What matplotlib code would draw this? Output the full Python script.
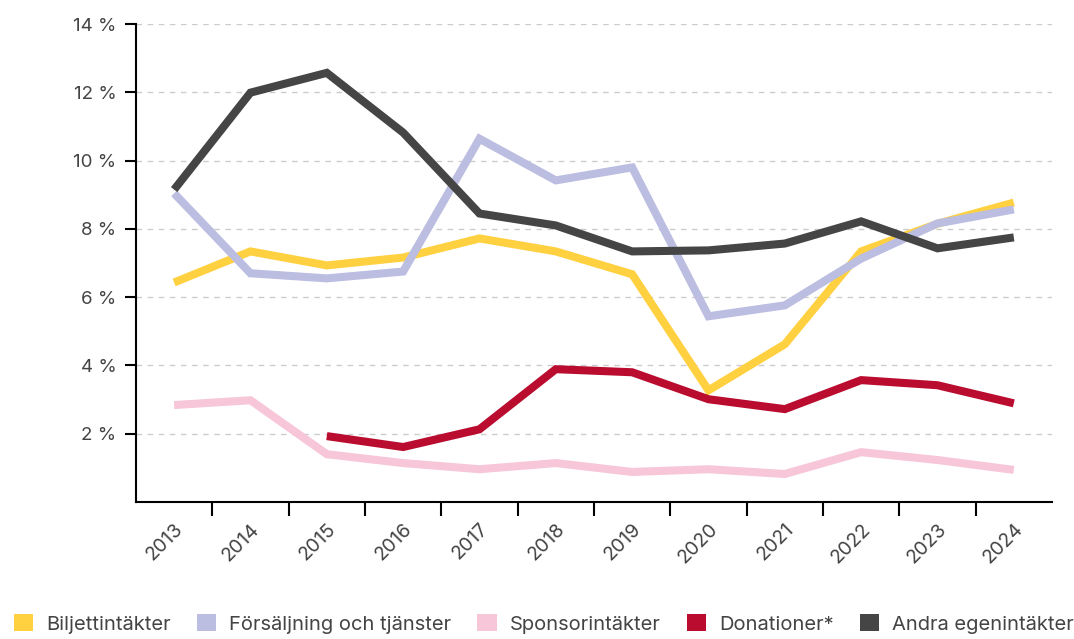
import matplotlib
matplotlib.use("Agg")
import matplotlib.pyplot as plt
from matplotlib.patches import Patch

plt.rcParams['font.family'] = ['Inter', 'DejaVu Sans']

years = [str(y) for y in range(2013, 2025)]

biljett = [6.43, 7.34, 6.93, 7.16, 7.72, 7.34, 6.67, 3.27, 4.62, 7.34, 8.15, 8.77]
forsaljning = [9.04, 6.70, 6.55, 6.75, 10.64, 9.42, 9.80, 5.44, 5.76, 7.13, 8.16, 8.57]
sponsor = [2.84, 2.98, 1.40, 1.14, 0.96, 1.14, 0.88, 0.96, 0.82, 1.46, 1.23, 0.94]
donationer = [None, None, 1.93, 1.61, 2.13, 3.89, 3.80, 3.01, 2.72, 3.57, 3.42, 2.89]
andra = [9.15, 11.99, 12.57, 10.82, 8.45, 8.10, 7.34, 7.37, 7.57, 8.22, 7.43, 7.75]

names = ["Biljettintäkter", "Försäljning och tjänster", "Sponsorintäkter",
         "Donationer*", "Andra egenintäkter"]
colors = ["#FFD03F", "#BBBDE1", "#F7C6D8", "#BA0C2F", "#454545"]
series = [biljett, forsaljning, sponsor, donationer, andra]

fig = plt.figure(figsize=(10.74, 6.39), dpi=100)
ax = fig.add_axes([0.1266, 0.2144, 0.8529, 0.748])

x = list(range(len(years)))
for vals, c in zip(series, colors):
    xs = [i for i, v in zip(x, vals) if v is not None]
    ys = [v for v in vals if v is not None]
    ax.plot(xs, ys, color=c, lw=5.8, solid_joinstyle='miter', solid_capstyle='butt')

ax.set_xlim(-0.5, len(years) - 0.5)
ax.set_ylim(0, 14)
ax.set_yticks(range(2, 15, 2))
ax.set_yticklabels([f"{v} %" for v in range(2, 15, 2)])
ax.yaxis.grid(True, color="#cccccc", linestyle=(0, (4, 4)), lw=1)
ax.set_axisbelow(True)

# tick marks between categories, labels at centers
ax.set_xticks([i + 0.5 for i in range(len(years) - 1)])
ax.set_xticklabels([])
ax.set_xticks(x, minor=True)
ax.set_xticklabels(years, minor=True, rotation=45, ha='right', rotation_mode='anchor')
ax.tick_params(axis='x', which='minor', length=0, pad=13)
ax.tick_params(axis='x', which='major', length=10, width=1.5, color='black')
ax.tick_params(axis='y', length=8, width=1.5, color='black', pad=6)
ax.tick_params(axis='y', labelsize=13.5, labelcolor="#444444")
ax.tick_params(axis='x', which='minor', labelsize=14, labelcolor="#444444")

for s in ['top', 'right']:
    ax.spines[s].set_visible(False)
for s in ['left', 'bottom']:
    ax.spines[s].set_linewidth(1.5)
    ax.spines[s].set_color('black')

handles = [Patch(facecolor=c, edgecolor='none') for c in colors]
fig.legend(handles, names, loc='lower left', bbox_to_anchor=(-0.004, -0.02), ncol=5,
           frameon=False, fontsize=14.5, labelcolor="#444444",
           handlelength=0.95, handleheight=0.95, handletextpad=0.65, columnspacing=1.3)

fig.savefig("out.png", dpi=100)
